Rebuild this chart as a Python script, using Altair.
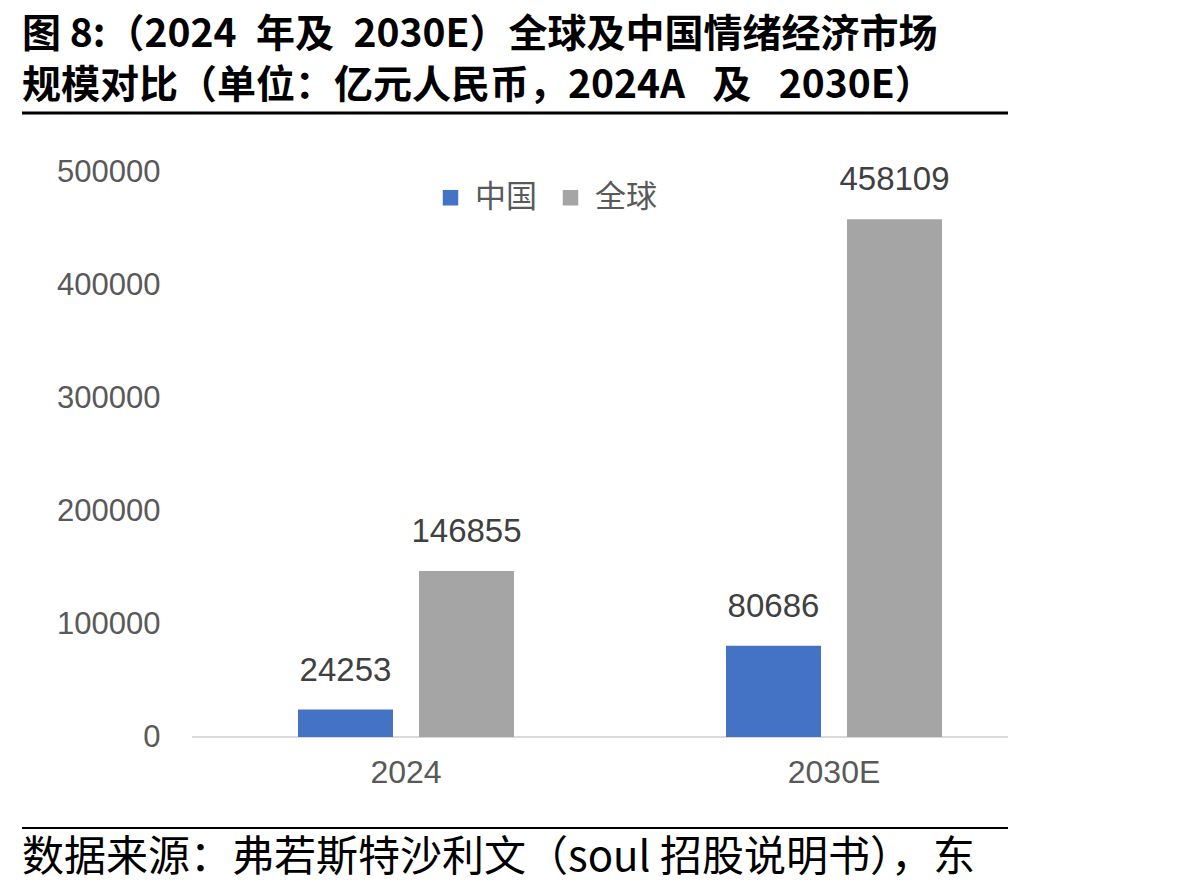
import altair as alt
import pandas as pd

years = ["2024", "2030E"]
regions = ["中国", "全球"]
china_values = [24253, 80686]
world_values = [146855, 458109]
colors = ["#4472C4", "#A5A5A5"]

title_line1 = "图 8:（2024\u2002年及\u20022030E）全球及中国情绪经济市场"
title_line2 = "规模对比（单位：亿元人民币，2024A\u2002\u2009及\u2002\u20092030E）"
source_text = "数据来源：弗若斯特沙利文（soul 招股说明书），东"

rows = []
for i, y in enumerate(years):
    rows.append({"year": y, "region": regions[0], "value": china_values[i]})
    rows.append({"year": y, "region": regions[1], "value": world_values[i]})
df = pd.DataFrame(rows)

W, H = 856, 565
NUM_FONT = "Liberation Sans"
CJK_FONT = "Noto Sans CJK SC"

base = alt.Chart(df).encode(
    x=alt.X(
        "year:N",
        sort=years,
        scale=alt.Scale(paddingInner=0, paddingOuter=0),
        axis=alt.Axis(
            title=None, labelAngle=0, ticks=False, domain=False,
            labelPadding=20, labelFontSize=32, labelColor="#595959",
            labelFont=NUM_FONT,
        ),
    ),
    xOffset=alt.XOffset(
        "region:N", sort=regions,
        scale=alt.Scale(paddingInner=0.215, paddingOuter=0.876),
    ),
    y=alt.Y(
        "value:Q",
        scale=alt.Scale(domain=[0, 500000], nice=False),
        axis=alt.Axis(
            title=None, ticks=False, domain=False, grid=False,
            values=[0, 100000, 200000, 300000, 400000, 500000],
            format="d", labelPadding=32, labelFontSize=31,
            labelColor="#595959", labelFont=NUM_FONT,
        ),
    ),
)

bars = base.mark_bar().encode(
    color=alt.Color(
        "region:N",
        sort=regions,
        scale=alt.Scale(domain=regions, range=colors),
        legend=alt.Legend(
            title=None, orient="none", legendX=243, legendY=10,
            direction="horizontal", symbolType="square", symbolSize=240,
            symbolStrokeWidth=0, labelFontSize=31, labelColor="#595959",
            labelFont=CJK_FONT, columnPadding=18, labelOffset=9,
        ),
    )
)

labels = base.mark_text(
    dy=-29, baseline="alphabetic", fontSize=33, color="#404040", font=NUM_FONT
).encode(text=alt.Text("value:Q", format="d"))

one = alt.Data(values=[{}])

domain_rule = alt.Chart(one).mark_rule(color="#D9D9D9", strokeWidth=2).encode(
    x=alt.value(0), x2=alt.value(816), y=alt.value(H)
)

top_rule = alt.Chart(one).mark_rule(color="#000000", strokeWidth=3).encode(
    x=alt.value(-170), x2=alt.value(816), y=alt.value(-59)
)
bottom_rule = alt.Chart(one).mark_rule(color="#000000", strokeWidth=2).encode(
    x=alt.value(-170), x2=alt.value(816), y=alt.value(656)
)

title1 = alt.Chart(one).mark_text(
    align="left", baseline="middle", fontSize=39, fontWeight="bold",
    font=CJK_FONT, color="#000000",
).encode(x=alt.value(-170), y=alt.value(-137), text=alt.value(title_line1))

title2 = alt.Chart(one).mark_text(
    align="left", baseline="middle", fontSize=39, fontWeight="bold",
    font=CJK_FONT, color="#000000",
).encode(x=alt.value(-170), y=alt.value(-86), text=alt.value(title_line2))

source = alt.Chart(one).mark_text(
    align="left", baseline="middle", fontSize=42,
    font=CJK_FONT, color="#000000",
).encode(x=alt.value(-170), y=alt.value(686), text=alt.value(source_text))

chart = alt.layer(
    domain_rule, bars, labels, top_rule, bottom_rule, title1, title2, source
).properties(
    width=W, height=H,
    autosize=alt.AutoSizeParams(type="none"),
    padding={"left": 192, "top": 172, "right": 150, "bottom": 158},
    background="#FFFFFF",
).configure_view(stroke=None)

chart.save("out.html", embed_options={"renderer": "svg", "actions": False})
